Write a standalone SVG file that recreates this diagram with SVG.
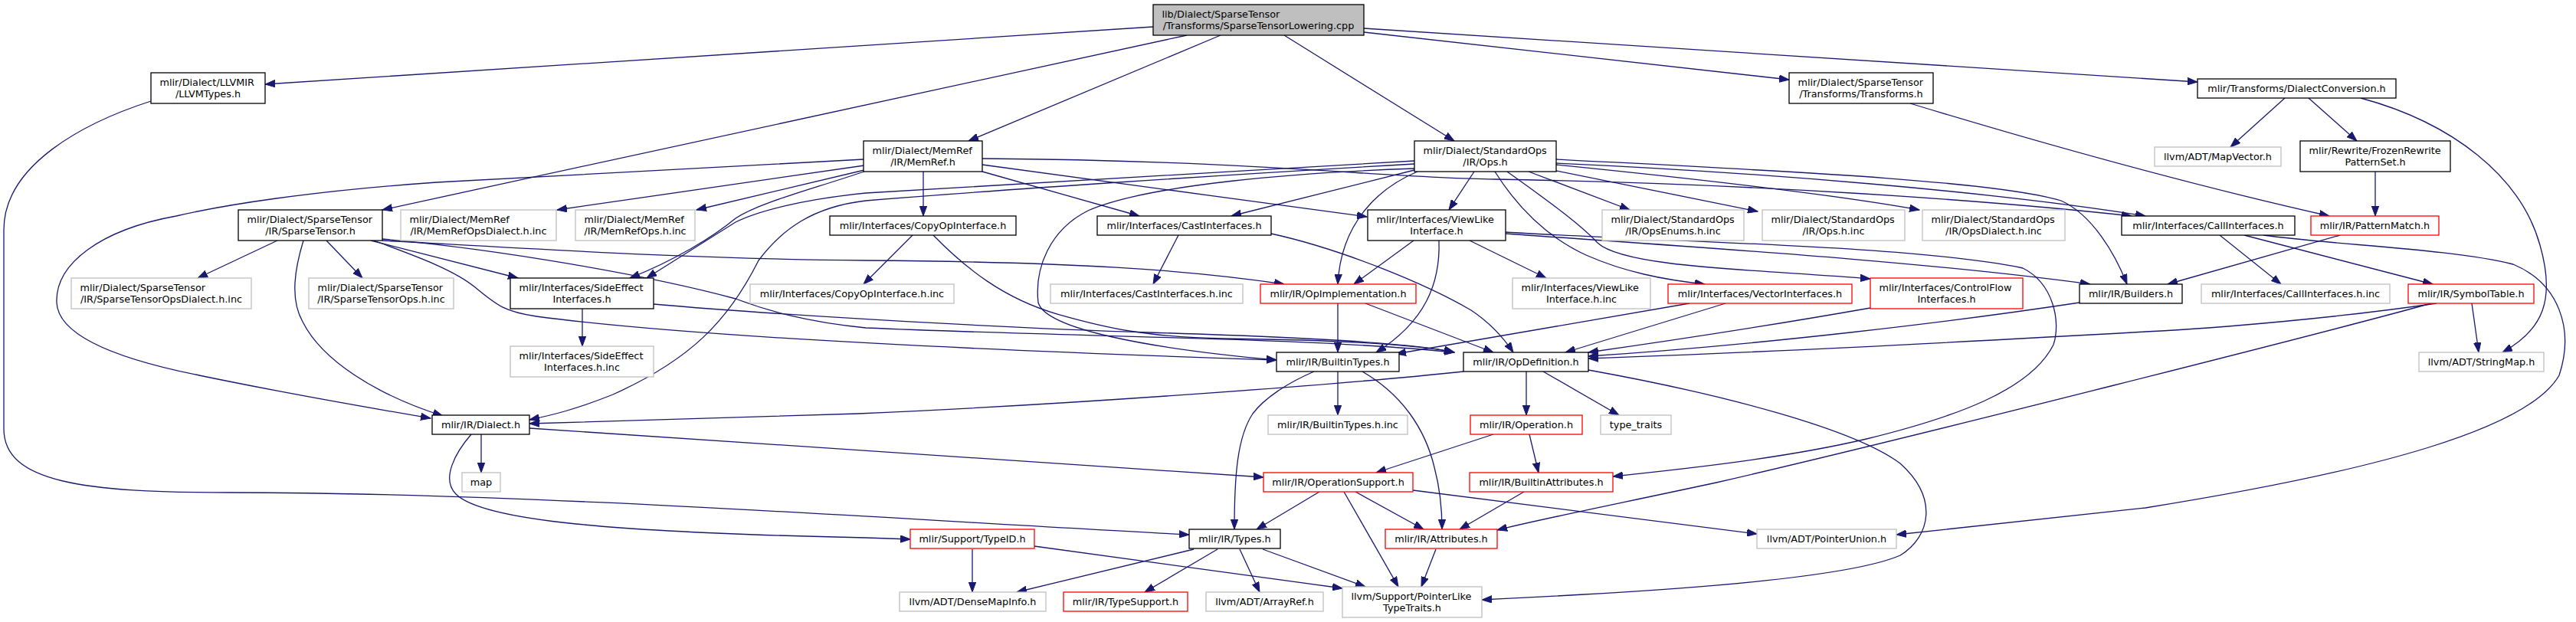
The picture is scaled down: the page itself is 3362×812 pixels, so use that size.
<svg xmlns="http://www.w3.org/2000/svg" width="3362" height="812" viewBox="0 0 3362 812">
<style>
rect{fill:#fff;stroke:#000;stroke-width:1.3}
.g rect{stroke:#bfbfbf}
.r rect{stroke:#ff0000}
.root rect{fill:#bfbfbf;stroke:#000}
text{font-family:"DejaVu Sans","Liberation Sans",sans-serif;font-size:12.8px;fill:#000}
.m{text-anchor:middle}
#edges path{fill:none;stroke:#191970;stroke-width:1.3;marker-end:url(#a)}
</style>
<defs>
<marker id="a" markerWidth="14" markerHeight="10" refX="13" refY="5" orient="auto" markerUnits="userSpaceOnUse">
<path d="M0,0.3 L13,5 L0,9.7 z" fill="#191970" stroke="#191970" stroke-width="1"/>
</marker>
</defs>
<rect x="0" y="0" width="3362" height="812" style="fill:#fff;stroke:none"/>
<g id="edges">
<path d="M1505,35 L346,110"/>
<path d="M1549,46 L499,274"/>
<path d="M1593,46 L1264,184"/>
<path d="M1676,46 L1898,184"/>
<path d="M1780,42 L2335,104"/>
<path d="M1780,37 L2868,107"/>
<path d="M197,132 C110,160 5,215 5,300 L5,560 C5,630 110,643 300,643 C700,643 1200,680 1552,698"/>
<path d="M362,314 L258,363"/>
<path d="M426,314 L473,363"/>
<path d="M396,314 C385,350 378,390 395,420 C420,470 490,515 578,543"/>
<path d="M484,314 L676,363"/>
<path d="M499,314 C700,325 900,338 1130,340 C1400,342 1550,352 1676,371"/>
<path d="M488,314 C530,330 590,350 620,375 C650,400 660,407 700,413 C900,440 1300,458 1666,470"/>
<path d="M499,312 C650,325 850,360 960,390 C1000,405 1050,420 1130,428 C1400,440 1700,440 1898,460"/>
<path d="M1127,208 L570,238 C400,250 290,268 230,282 C130,300 72,345 74,395 C76,440 160,470 260,490 C380,515 480,532 562,546"/>
<path d="M1128,216 L727,274"/>
<path d="M1128,222 L909,274"/>
<path d="M1128,224 C1050,250 990,265 960,285 C930,310 880,340 822,363"/>
<path d="M1205,224 L1205,282"/>
<path d="M1282,224 L1487,282"/>
<path d="M1282,215 L1784,283"/>
<path d="M1282,207 C1650,210 1800,232 1950,234 C2300,240 2600,262 2782,282"/>
<path d="M2031,213 C2300,225 2600,250 2800,282"/>
<path d="M2031,223 L2294,276"/>
<path d="M2031,215 C2200,232 2400,255 2505,274"/>
<path d="M2031,208 C2300,222 2600,235 2690,262 C2730,280 2760,330 2776,371"/>
<path d="M1995,224 L2127,274"/>
<path d="M1924,224 L1891,274"/>
<path d="M1951,224 C1980,270 2020,310 2070,333 C2120,355 2170,365 2225,371"/>
<path d="M1967,224 C2010,255 2060,290 2085,317 C2120,350 2300,352 2441,364"/>
<path d="M1850,224 C1800,245 1750,290 1746,371"/>
<path d="M1846,222 L1607,282"/>
<path d="M1846,210 C1600,225 1300,240 1130,252 C1050,260 990,275 960,290 C920,315 880,340 844,363"/>
<path d="M1846,214 C1600,228 1300,248 1130,262 C1060,270 1020,300 990,340 C950,420 900,470 800,515 C750,535 720,542 691,548"/>
<path d="M1846,220 C1700,225 1500,240 1420,275 C1370,300 1350,350 1355,395 C1365,430 1500,455 1666,470"/>
<path d="M1191,307 L1127,371"/>
<path d="M1218,307 C1260,350 1310,390 1380,410 C1450,430 1500,440 1600,442 C1750,444 1850,450 1898,460"/>
<path d="M1538,307 L1505,371"/>
<path d="M1659,305 C1750,325 1860,370 1920,405 C1950,425 1965,445 1975,460"/>
<path d="M1918,314 L2018,363"/>
<path d="M1845,314 L1767,371"/>
<path d="M1878,314 C1880,370 1860,420 1796,460"/>
<path d="M1965,305 C2200,322 2500,340 2728,371"/>
<path d="M1965,303 C2150,315 2500,320 2640,350 C2680,370 2690,420 2680,450 C2650,510 2550,545 2436,573 C2330,598 2200,612 2105,622"/>
<path d="M1746,396 L1746,460"/>
<path d="M1782,396 L1949,460"/>
<path d="M760,403 L760,452"/>
<path d="M853,397 C1000,410 1300,428 1500,434 C1700,440 1850,448 1898,460"/>
<path d="M1746,485 L1746,542"/>
<path d="M1715,485 C1680,500 1650,520 1635,540 C1615,570 1611,620 1611,691"/>
<path d="M1778,485 C1830,515 1860,560 1872,610 C1880,640 1882,670 1882,691"/>
<path d="M1910,485 C1750,502 1400,528 1120,540 C950,546 800,550 691,553"/>
<path d="M1992,485 L1992,542"/>
<path d="M2014,485 L2113,542"/>
<path d="M2073,483 C2250,515 2420,560 2480,605 C2530,650 2520,700 2480,725 C2400,760 2100,775 1934,783"/>
<path d="M628,567 L628,617"/>
<path d="M691,559 L1649,623"/>
<path d="M615,567 C595,590 575,625 595,645 C630,680 800,695 1130,702 L1188,704"/>
<path d="M1949,567 L1796,617"/>
<path d="M1996,567 L2008,617"/>
<path d="M1722,642 L1640,691"/>
<path d="M1769,642 L1858,691"/>
<path d="M1754,642 L1825,766"/>
<path d="M1844,640 L2293,697"/>
<path d="M1989,642 L1905,691"/>
<path d="M1874,717 L1855,766"/>
<path d="M1558,717 L1327,773"/>
<path d="M1589,717 L1494,773"/>
<path d="M1618,717 L1644,773"/>
<path d="M1648,717 L1782,766"/>
<path d="M1269,717 L1269,773"/>
<path d="M1350,713 L1752,768"/>
<path d="M2493,135 Q2800,228 3040,282"/>
<path d="M2982,128 L2911,192"/>
<path d="M3013,128 L3076,184"/>
<path d="M3081,128 C3200,160 3290,230 3315,320 C3335,390 3320,430 3266,460"/>
<path d="M3100,224 L3100,282"/>
<path d="M3054,307 L2829,371"/>
<path d="M2897,307 L2977,371"/>
<path d="M2929,307 L3175,371"/>
<path d="M2954,307 C3050,320 3200,325 3280,345 C3340,370 3360,430 3340,490 C3300,560 3100,615 2800,663 C2650,680 2550,690 2475,698"/>
<path d="M3226,396 L3235,460"/>
<path d="M3180,396 C3050,415 2900,428 2800,433 C2500,450 2250,462 2073,468"/>
<path d="M3173,396 C3050,430 2500,570 2240,630 C2100,660 2000,680 1954,692"/>
<path d="M2714,395 C2550,420 2300,450 2073,465"/>
<path d="M2441,402 C2350,418 2200,442 2073,460"/>
<path d="M2252,396 L2043,460"/>
<path d="M2205,396 L1822,462"/>
</g>
<g id="n_top" class="root"><rect x="1505" y="6" width="275" height="40"/><text x="1516.5" y="22.5">lib/Dialect/SparseTensor</text><text class="m" x="1642.5" y="37.5">/Transforms/SparseTensorLowering.cpp</text></g>
<g id="n_llvmtypes"><rect x="197" y="95" width="149" height="40"/><text x="208.5" y="111.5">mlir/Dialect/LLVMIR</text><text class="m" x="271.5" y="126.5">/LLVMTypes.h</text></g>
<g id="n_memref"><rect x="1127" y="184" width="155" height="40"/><text x="1138.5" y="200.5">mlir/Dialect/MemRef</text><text class="m" x="1204.5" y="215.5">/IR/MemRef.h</text></g>
<g id="n_sparsetensor"><rect x="311" y="274" width="188" height="40"/><text x="322.5" y="290.5">mlir/Dialect/SparseTensor</text><text class="m" x="405" y="305.5">/IR/SparseTensor.h</text></g>
<g id="n_stdops"><rect x="1846" y="184" width="185" height="40"/><text x="1857.5" y="200.5">mlir/Dialect/StandardOps</text><text class="m" x="1938.5" y="215.5">/IR/Ops.h</text></g>
<g id="n_transforms"><rect x="2335" y="95" width="188" height="40"/><text x="2346.5" y="111.5">mlir/Dialect/SparseTensor</text><text class="m" x="2429" y="126.5">/Transforms/Transforms.h</text></g>
<g id="n_dialectconv"><rect x="2868" y="103" width="259" height="25"/><text class="m" x="2997.5" y="120">mlir/Transforms/DialectConversion.h</text></g>
<g id="n_mapvector" class="g"><rect x="2812" y="192" width="165" height="25"/><text class="m" x="2894.5" y="209">llvm/ADT/MapVector.h</text></g>
<g id="n_frozen"><rect x="3002" y="184" width="196" height="40"/><text x="3013.5" y="200.5">mlir/Rewrite/FrozenRewrite</text><text class="m" x="3100" y="215.5">PatternSet.h</text></g>
<g id="n_patternmatch" class="r"><rect x="3016" y="282" width="167" height="25"/><text class="m" x="3099.5" y="299">mlir/IR/PatternMatch.h</text></g>
<g id="n_stopsdialect" class="g"><rect x="93" y="363" width="235" height="40"/><text x="104.5" y="379.5">mlir/Dialect/SparseTensor</text><text class="m" x="210.5" y="394.5">/IR/SparseTensorOpsDialect.h.inc</text></g>
<g id="n_stops" class="g"><rect x="403" y="363" width="189" height="40"/><text x="414.5" y="379.5">mlir/Dialect/SparseTensor</text><text class="m" x="497.5" y="394.5">/IR/SparseTensorOps.h.inc</text></g>
<g id="n_memrefopsdialect" class="g"><rect x="523" y="274" width="203" height="40"/><text x="534.5" y="290.5">mlir/Dialect/MemRef</text><text class="m" x="624.5" y="305.5">/IR/MemRefOpsDialect.h.inc</text></g>
<g id="n_memrefops" class="g"><rect x="751" y="274" width="156" height="40"/><text x="762.5" y="290.5">mlir/Dialect/MemRef</text><text class="m" x="829" y="305.5">/IR/MemRefOps.h.inc</text></g>
<g id="n_sideeffect"><rect x="666" y="363" width="187" height="40"/><text x="677.5" y="379.5">mlir/Interfaces/SideEffect</text><text class="m" x="759.5" y="394.5">Interfaces.h</text></g>
<g id="n_sideeffectinc" class="g"><rect x="666" y="452" width="187" height="40"/><text x="677.5" y="468.5">mlir/Interfaces/SideEffect</text><text class="m" x="759.5" y="483.5">Interfaces.h.inc</text></g>
<g id="n_copyop"><rect x="1083" y="282" width="243" height="25"/><text class="m" x="1204.5" y="299">mlir/Interfaces/CopyOpInterface.h</text></g>
<g id="n_copyopinc" class="g"><rect x="979" y="371" width="266" height="25"/><text class="m" x="1112" y="388">mlir/Interfaces/CopyOpInterface.h.inc</text></g>
<g id="n_cast"><rect x="1432" y="282" width="227" height="25"/><text class="m" x="1545.5" y="299">mlir/Interfaces/CastInterfaces.h</text></g>
<g id="n_castinc" class="g"><rect x="1371" y="371" width="251" height="25"/><text class="m" x="1496.5" y="388">mlir/Interfaces/CastInterfaces.h.inc</text></g>
<g id="n_opimpl" class="r"><rect x="1645" y="371" width="203" height="25"/><text class="m" x="1746.5" y="388">mlir/IR/OpImplementation.h</text></g>
<g id="n_viewlike"><rect x="1785" y="274" width="180" height="40"/><text x="1796.5" y="290.5">mlir/Interfaces/ViewLike</text><text class="m" x="1875" y="305.5">Interface.h</text></g>
<g id="n_viewlikeinc" class="g"><rect x="1974" y="363" width="180" height="40"/><text x="1985.5" y="379.5">mlir/Interfaces/ViewLike</text><text class="m" x="2064" y="394.5">Interface.h.inc</text></g>
<g id="n_opsenums" class="g"><rect x="2091" y="274" width="185" height="40"/><text x="2102.5" y="290.5">mlir/Dialect/StandardOps</text><text class="m" x="2183.5" y="305.5">/IR/OpsEnums.h.inc</text></g>
<g id="n_opsinc" class="g"><rect x="2300" y="274" width="186" height="40"/><text x="2311.5" y="290.5">mlir/Dialect/StandardOps</text><text class="m" x="2393" y="305.5">/IR/Ops.h.inc</text></g>
<g id="n_opsdialect" class="g"><rect x="2509" y="274" width="186" height="40"/><text x="2520.5" y="290.5">mlir/Dialect/StandardOps</text><text class="m" x="2602" y="305.5">/IR/OpsDialect.h.inc</text></g>
<g id="n_call"><rect x="2769" y="282" width="226" height="25"/><text class="m" x="2882" y="299">mlir/Interfaces/CallInterfaces.h</text></g>
<g id="n_vector" class="r"><rect x="2177" y="371" width="240" height="25"/><text class="m" x="2297" y="388">mlir/Interfaces/VectorInterfaces.h</text></g>
<g id="n_controlflow" class="r"><rect x="2441" y="363" width="199" height="40"/><text x="2452.5" y="379.5">mlir/Interfaces/ControlFlow</text><text class="m" x="2540.5" y="394.5">Interfaces.h</text></g>
<g id="n_builders"><rect x="2714" y="371" width="134" height="25"/><text class="m" x="2781" y="388">mlir/IR/Builders.h</text></g>
<g id="n_callinc" class="g"><rect x="2873" y="371" width="246" height="25"/><text class="m" x="2996" y="388">mlir/Interfaces/CallInterfaces.h.inc</text></g>
<g id="n_symboltable" class="r"><rect x="3143" y="371" width="164" height="25"/><text class="m" x="3225" y="388">mlir/IR/SymbolTable.h</text></g>
<g id="n_stringmap" class="g"><rect x="3157" y="460" width="163" height="25"/><text class="m" x="3238.5" y="477">llvm/ADT/StringMap.h</text></g>
<g id="n_builtintypes"><rect x="1666" y="460" width="160" height="25"/><text class="m" x="1746" y="477">mlir/IR/BuiltinTypes.h</text></g>
<g id="n_opdef"><rect x="1910" y="460" width="163" height="25"/><text class="m" x="1991.5" y="477">mlir/IR/OpDefinition.h</text></g>
<g id="n_dialect"><rect x="564" y="542" width="127" height="25"/><text class="m" x="627.5" y="559">mlir/IR/Dialect.h</text></g>
<g id="n_map" class="g"><rect x="603" y="617" width="50" height="25"/><text class="m" x="628" y="634">map</text></g>
<g id="n_builtintypesinc" class="g"><rect x="1655" y="542" width="182" height="25"/><text class="m" x="1746" y="559">mlir/IR/BuiltinTypes.h.inc</text></g>
<g id="n_operation" class="r"><rect x="1919" y="542" width="146" height="25"/><text class="m" x="1992" y="559">mlir/IR/Operation.h</text></g>
<g id="n_typetraits" class="g"><rect x="2089" y="542" width="92" height="25"/><text class="m" x="2135" y="559">type_traits</text></g>
<g id="n_opsupport" class="r"><rect x="1649" y="617" width="195" height="25"/><text class="m" x="1746.5" y="634">mlir/IR/OperationSupport.h</text></g>
<g id="n_builtinattrs" class="r"><rect x="1918" y="617" width="187" height="25"/><text class="m" x="2011.5" y="634">mlir/IR/BuiltinAttributes.h</text></g>
<g id="n_typeid" class="r"><rect x="1188" y="691" width="162" height="25"/><text class="m" x="1269" y="708">mlir/Support/TypeID.h</text></g>
<g id="n_types"><rect x="1552" y="691" width="119" height="25"/><text class="m" x="1611.5" y="708">mlir/IR/Types.h</text></g>
<g id="n_attributes" class="r"><rect x="1808" y="691" width="146" height="25"/><text class="m" x="1881" y="708">mlir/IR/Attributes.h</text></g>
<g id="n_pointerunion" class="g"><rect x="2293" y="691" width="182" height="25"/><text class="m" x="2384" y="708">llvm/ADT/PointerUnion.h</text></g>
<g id="n_densemap" class="g"><rect x="1174" y="773" width="191" height="25"/><text class="m" x="1269.5" y="790">llvm/ADT/DenseMapInfo.h</text></g>
<g id="n_typesupport" class="r"><rect x="1388" y="773" width="162" height="25"/><text class="m" x="1469" y="790">mlir/IR/TypeSupport.h</text></g>
<g id="n_arrayref" class="g"><rect x="1574" y="773" width="153" height="25"/><text class="m" x="1650.5" y="790">llvm/ADT/ArrayRef.h</text></g>
<g id="n_ptrlike" class="g"><rect x="1752" y="766" width="182" height="40"/><text x="1763.5" y="782.5">llvm/Support/PointerLike</text><text class="m" x="1843" y="797.5">TypeTraits.h</text></g>
</svg>
